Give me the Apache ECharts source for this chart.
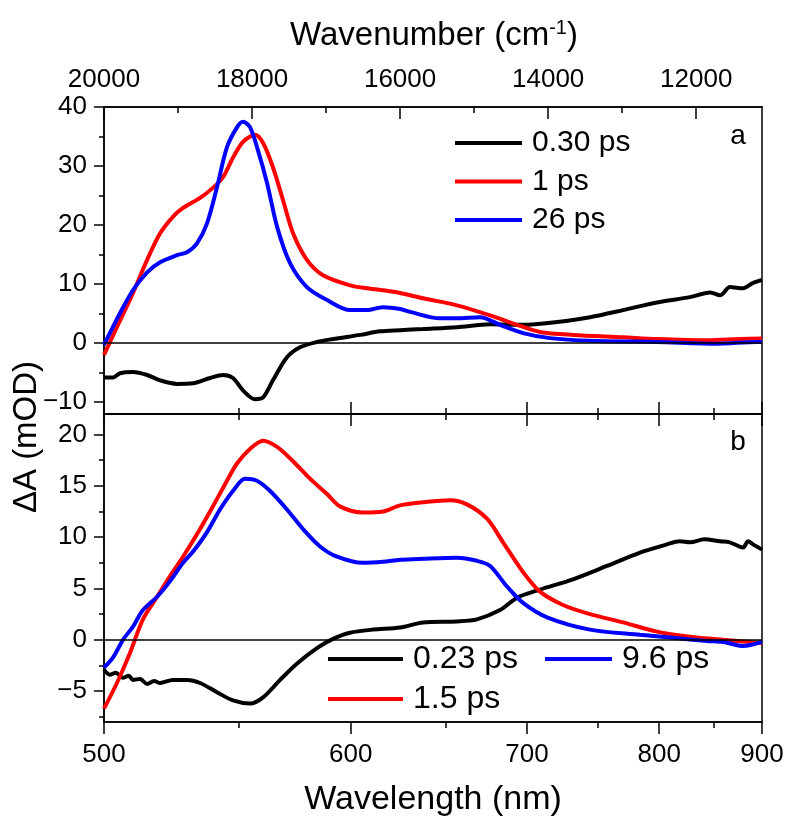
<!DOCTYPE html>
<html>
<head>
<meta charset="utf-8">
<script src="https://cdn.jsdelivr.net/npm/echarts@6/dist/echarts.min.js"></script>
<style>
html, body { margin: 0; padding: 0; background: #fff; }
#chart { width: 790px; height: 818px; }
</style>
</head>
<body>
<div id="chart"></div>
<script>
// panel a
var wlA030 = [500, 503.1, 505.5, 510, 515, 519.7, 525.9, 532, 538.6, 543.7, 547.7, 551.8, 556.8, 560.2, 564.4, 570.5, 576.3, 584, 591.5, 604.6, 614.6, 625, 637.3, 656.5, 676.4, 697.4, 720.5, 744.4, 770, 798, 827.6, 846.5, 856.3, 866.3, 879.8, 890.3, 900];
var dA030 = [-5.8, -5.8, -5.1, -4.9, -5.4, -6.3, -6.9, -6.8, -5.9, -5.4, -5.9, -8.0, -9.5, -9.2, -6.3, -2.4, -0.7, 0.2, 0.7, 1.4, 2.0, 2.2, 2.4, 2.7, 3.2, 3.1, 3.6, 4.4, 5.6, 6.9, 7.8, 8.6, 8.1, 9.5, 9.3, 10.2, 10.7];

var wlA1 = [500, 504.4, 510, 515, 519.7, 524.4, 528.2, 534.7, 539.7, 543.7, 547.7, 551.8, 556.8, 560.2, 564.4, 568.8, 573.2, 579.4, 586.8, 599.6, 608, 619.7, 625, 637.3, 656.5, 676.4, 693.5, 708.7, 731.8, 770, 798, 843.6, 876.6, 900];
var dA1 = [-2.0, 2.7, 8.5, 14.1, 18.6, 21.4, 22.9, 24.6, 26.3, 28.1, 31.4, 34.1, 35.3, 33.9, 29.8, 24.2, 18.6, 14.1, 11.5, 9.8, 9.3, 8.8, 8.5, 7.6, 6.4, 4.7, 3.1, 1.9, 1.4, 1.0, 0.7, 0.5, 0.7, 0.8];

var wlA26 = [500, 505.5, 510, 515, 519.7, 525.9, 529.7, 533.5, 537.4, 541.3, 545.3, 549.4, 551.8, 554.7, 558, 561.9, 566.2, 571.8, 579.4, 588.7, 599.6, 608, 616.1, 625, 630.3, 646.8, 656.5, 670.2, 682.6, 697.4, 715.6, 744.4, 798, 853, 894.6, 900];
var dA26 = [-0.3, 5.1, 9.0, 12.0, 13.7, 14.9, 15.4, 16.9, 20.3, 26.4, 33.2, 36.6, 37.5, 36.6, 32.7, 27.1, 19.7, 13.6, 9.5, 7.3, 5.6, 5.6, 6.1, 5.8, 5.3, 4.2, 4.2, 4.4, 3.1, 1.7, 0.85, 0.4, 0.2, -0.1, 0.2, 0.2];

// panel b
var wlB023 = [500, 502, 504, 506.5, 508.5, 510, 512.5, 515, 517.5, 519.7, 524.4, 529.7, 534.7, 541.3, 547.7, 554.7, 560.2, 567.5, 575, 584, 591.5, 599.6, 611, 625, 637.3, 656.5, 668.4, 682.6, 693.5, 708.7, 731.8, 757.3, 783.8, 806.8, 818, 827.6, 841, 856.3, 866, 879.8, 885, 890.3, 900];
var dB023 = [-2.9, -3.4, -3.2, -3.7, -3.5, -3.9, -3.8, -4.3, -4.0, -4.2, -3.9, -3.9, -4.2, -5.1, -5.9, -6.2, -5.6, -3.9, -2.3, -0.8, 0.1, 0.7, 1.0, 1.2, 1.7, 1.8, 2.0, 2.9, 4.1, 4.9, 5.9, 7.2, 8.5, 9.3, 9.6, 9.5, 9.8, 9.6, 9.5, 9.0, 9.6, 9.3, 8.8];

var wlB15 = [500, 504.4, 508.9, 513.5, 518.6, 523.3, 528.2, 534.7, 539.7, 545.3, 549.4, 554.7, 560.2, 566.2, 573.2, 580.8, 588.7, 594.8, 606, 616.1, 625, 637.3, 652.5, 662.4, 674.5, 684.5, 697.4, 708.7, 724.7, 744.4, 770, 798, 827.6, 859.3, 900];
var dB15 = [-6.7, -4.2, -1.3, 2.0, 4.2, 6.2, 8.1, 10.8, 13.0, 15.5, 17.2, 18.6, 19.4, 18.8, 17.4, 15.7, 14.2, 13.0, 12.4, 12.5, 13.1, 13.4, 13.6, 13.2, 11.8, 9.5, 6.6, 4.7, 3.4, 2.5, 1.7, 0.8, 0.3, 0.0, -0.3];

var wlB96 = [500, 503.1, 506.5, 510, 513.5, 518.6, 523.3, 528.2, 532, 537.4, 542.5, 547.7, 552.6, 557.6, 563.2, 570.5, 577.6, 585.4, 593.4, 606, 616.1, 625, 637.3, 656.5, 668.4, 676.4, 687, 697.4, 713.5, 744.4, 783.8, 812.2, 843.6, 859.3, 879.8, 900];
var dB96 = [-2.7, -1.7, 0, 1.3, 2.9, 4.2, 5.7, 7.5, 8.6, 10.5, 12.7, 14.5, 15.7, 15.5, 14.5, 12.7, 10.8, 9.1, 8.1, 7.5, 7.6, 7.8, 7.9, 8.0, 7.7, 7.2, 5.2, 3.6, 2.2, 1.0, 0.5, 0.2, -0.1, -0.2, -0.6, -0.2];

// axis ticks
var wlMajor = [500, 600, 700, 800, 900];
var wlMinor = [550, 650, 750, 850];
var wnMajor = [20000, 18000, 16000, 14000, 12000];
var wnMinor = [19000, 17000, 15000, 13000];
var yMajorA = [-10, 0, 10, 20, 30, 40];
var yMinorA = [-5, 5, 15, 25, 35];
var yMajorB = [-5, 0, 5, 10, 15, 20];
var yMinorB = [-7.5, -2.5, 2.5, 7.5, 12.5, 17.5];

var FONT = "'Liberation Sans', Arial, sans-serif";
var NU_MIN = 1e7 / 900, NU_MAX = 20000;

// plot is linear in wavenumber, so wavelengths go through 1e7/x
function nu(l) { return 1e7 / l; }
function pts(wl, d) {
    return wl.map(function (l, i) { return [nu(l), d[i]]; });
}

function xAx(grid, pos, ticks, len, inside, labels) {
    var ax = {
        type: 'value', gridIndex: grid, position: pos,
        min: NU_MIN, max: NU_MAX, inverse: true,
        axisLine: { show: true, onZero: false, lineStyle: { color: '#000', width: 1.5 } },
        axisTick: { show: true, inside: inside, length: len, customValues: ticks, lineStyle: { color: '#000', width: 1.5 } },
        axisLabel: { show: false },
        splitLine: { show: false }
    };
    if (labels) ax.axisLabel = labels;
    return ax;
}

function yAx(grid, pos, min, max, ticks, len, labels) {
    var ax = {
        type: 'value', gridIndex: grid, position: pos, min: min, max: max,
        axisLine: { show: true, onZero: false, lineStyle: { color: '#000', width: 1.5 } },
        axisTick: ticks ? { show: true, length: len, customValues: ticks, lineStyle: { color: '#000', width: 1.5 } } : { show: false },
        axisLabel: { show: false },
        splitLine: { show: false }
    };
    if (labels) ax.axisLabel = { show: true, customValues: labels, fontSize: 26, fontFamily: FONT, color: '#000', margin: 17,
        formatter: function (v) { return String(v).replace('-', '\u2212'); } };
    return ax;
}

var zeroLine = {
    silent: true, symbol: 'none', label: { show: false },
    lineStyle: { color: '#000', width: 1.5, type: 'solid' },
    data: [{ yAxis: 0 }]
};

function line(name, data, color, xi, yi, mark) {
    var s = {
        name: name, type: 'line', data: data, xAxisIndex: xi, yAxisIndex: yi,
        showSymbol: false, smooth: 0.3, lineStyle: { color: color, width: 4 }, itemStyle: { color: color },
        z: 3
    };
    if (mark) s.markLine = zeroLine;
    return s;
}

function legendAt(names, left, top, w, size, orient) {
    return {
        data: names, orient: orient || 'horizontal', left: left, top: top, padding: 0,
        icon: 'rect', itemWidth: w, itemHeight: 4, itemGap: 8.5,
        textStyle: { fontSize: size, fontFamily: FONT, color: '#000', lineHeight: size, padding: [0, 0, 0, 5] }
    };
}

var myChart = echarts.init(document.getElementById('chart'));

var option = {
    animation: false,
    backgroundColor: '#fff',
    grid: [
        { left: 104, right: 28, top: 107, height: 307 },
        { left: 104, right: 28, top: 414, height: 308 }
    ],
    xAxis: [
        // panel a bottom
        xAx(0, 'bottom', wlMajor.map(nu), 12, true),
        xAx(0, 'bottom', wlMinor.map(nu), 6, true),
        // panel a top (wavenumber)
        xAx(0, 'top', wnMajor, 12, true, {
            show: true, customValues: wnMajor, fontSize: 26, fontFamily: FONT, color: '#000', margin: 14,
            formatter: function (v) { return String(Math.round(v)); }
        }),
        xAx(0, 'top', wnMinor, 6, true),
        // panel b top
        xAx(1, 'top', wlMajor.map(nu), 12, true),
        xAx(1, 'top', wlMinor.map(nu), 6, true),
        // panel b bottom (wavelength)
        xAx(1, 'bottom', wlMajor.map(nu), 12, false, {
            show: true, customValues: wlMajor.map(nu), fontSize: 26, fontFamily: FONT, color: '#000', margin: 20,
            formatter: function (v) { return String(Math.round(1e7 / v)); }
        }),
        xAx(1, 'bottom', wlMinor.map(nu), 6, false)
    ],
    yAxis: [
        yAx(0, 'left', -12, 40, yMajorA, 10, yMajorA),
        yAx(0, 'left', -12, 40, yMinorA, 5),
        yAx(0, 'right', -12, 40),
        yAx(1, 'left', -8, 22, yMajorB, 10, yMajorB),
        yAx(1, 'left', -8, 22, yMinorB, 5),
        yAx(1, 'right', -8, 22)
    ],
    legend: [
        legendAt(['0.30 ps', '1 ps', '26 ps'], 455, 128, 67, 30, 'vertical'),
        legendAt(['0.23 ps'], 328, 643, 75, 32),
        legendAt(['9.6 ps'], 545, 643, 67, 32),
        legendAt(['1.5 ps'], 328, 683, 75, 32)
    ],
    graphic: [
        {
            type: 'text', x: 434, y: 36,
            style: {
                text: '{m|Wavenumber (cm}{s|-1}{m|)}', textAlign: 'center', textVerticalAlign: 'middle', fill: '#000',
                rich: {
                    m: { fontSize: 33, fontFamily: FONT, lineHeight: 36 },
                    s: { fontSize: 20, fontFamily: FONT, verticalAlign: 'top', lineHeight: 20 }
                }
            }
        },
        { type: 'text', x: 433, y: 800, style: { text: 'Wavelength (nm)', font: '34px ' + FONT, fill: '#000', textAlign: 'center', textVerticalAlign: 'middle' } },
        { type: 'text', x: 27, y: 437, rotation: Math.PI / 2, style: { text: '\u0394A (mOD)', font: '33px ' + FONT, fill: '#000', textAlign: 'center', textVerticalAlign: 'middle' } },
        { type: 'text', x: 738, y: 136, style: { text: 'a', font: '28px ' + FONT, fill: '#000', textAlign: 'center', textVerticalAlign: 'middle' } },
        { type: 'text', x: 738, y: 442, style: { text: 'b', font: '28px ' + FONT, fill: '#000', textAlign: 'center', textVerticalAlign: 'middle' } }
    ],
    series: [
        line('0.30 ps', pts(wlA030, dA030), '#000000', 0, 0, true),
        line('1 ps', pts(wlA1, dA1), '#ff0000', 0, 0),
        line('26 ps', pts(wlA26, dA26), '#0000ff', 0, 0),
        line('0.23 ps', pts(wlB023, dB023), '#000000', 6, 3, true),
        line('1.5 ps', pts(wlB15, dB15), '#ff0000', 6, 3),
        line('9.6 ps', pts(wlB96, dB96), '#0000ff', 6, 3)
    ]
};

myChart.setOption(option);
</script>
</body>
</html>
